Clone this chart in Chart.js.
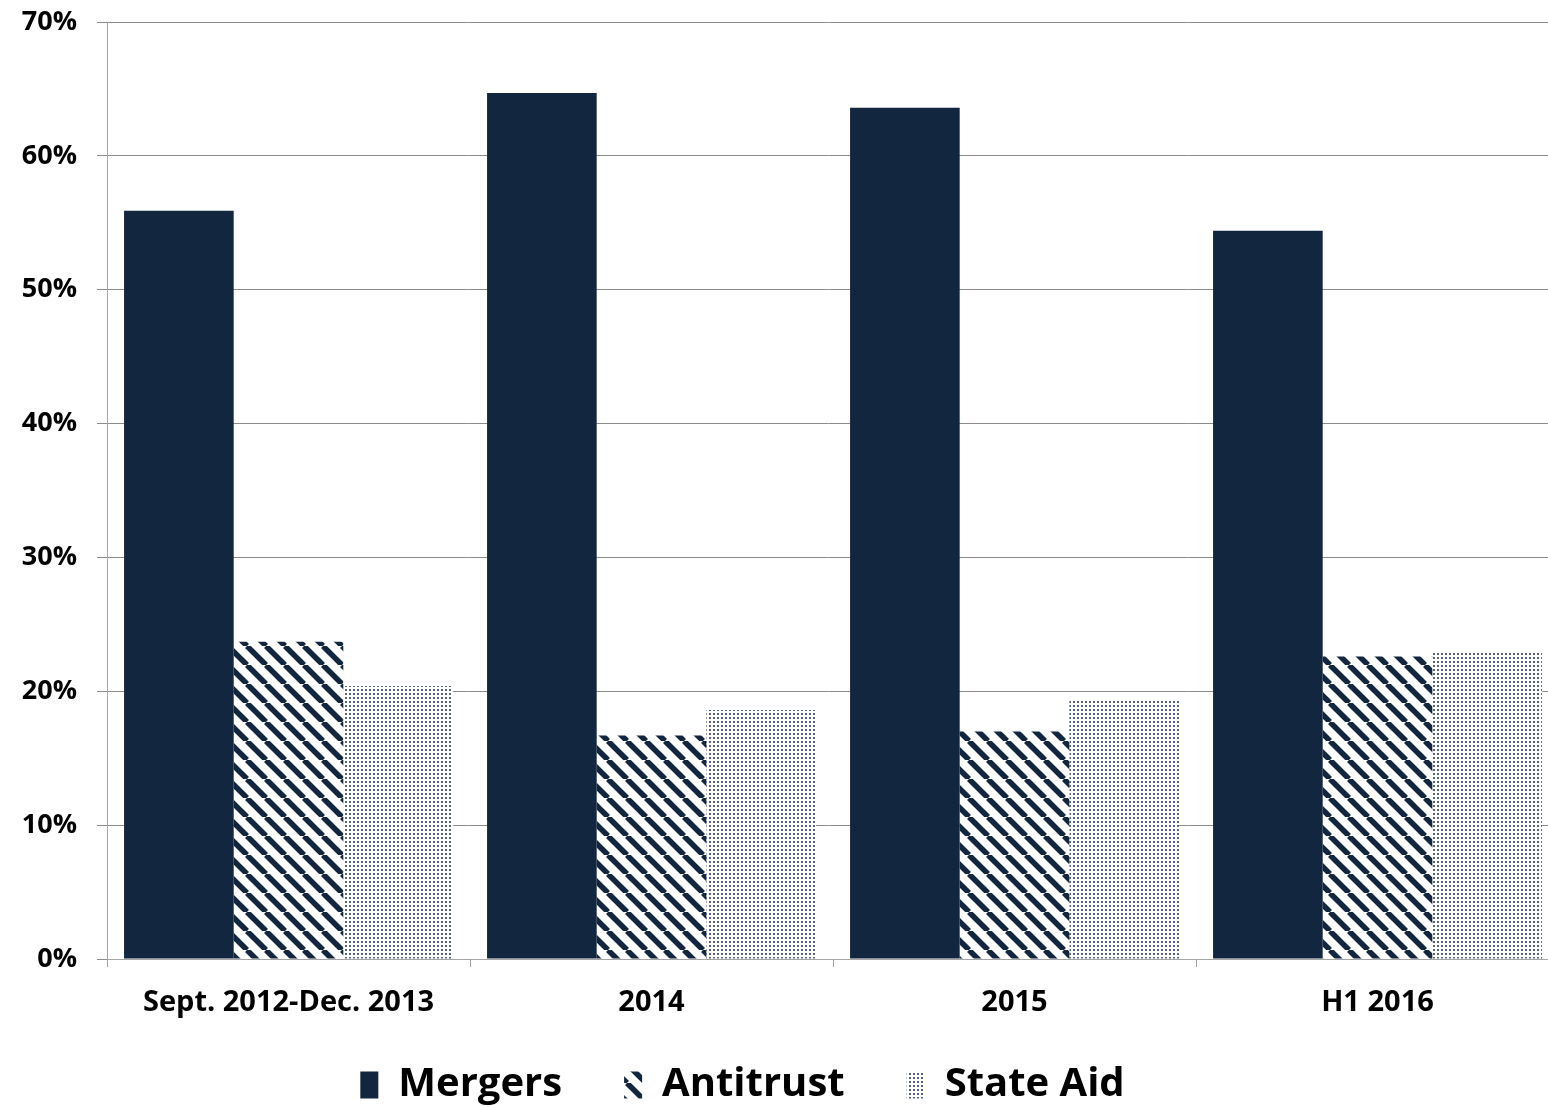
<!DOCTYPE html>
<html lang="en">
<head>
    <meta charset="UTF-8">
    <title>Mergers, Antitrust and State Aid</title>
    <script src="https://cdn.jsdelivr.net/npm/chart.js"></script>
    <style>
        html, body { margin: 0; padding: 0; background: #fff; }
        .chart-box { width: 1548px; height: 1107px; }
    </style>
</head>
<body>
    <div class="chart-box">
        <canvas id="shareChart"></canvas>
    </div>
    <script>
        const categories = ['Sept. 2012-Dec. 2013', '2014', '2015', 'H1 2016'];
        const mergers = [55.9, 64.7, 63.6, 54.4];
        const antitrust = [23.7, 16.7, 17.0, 22.6];
        const stateAid = [20.4, 18.6, 19.4, 23.0];

        const navy = '#12263f';
        const fontFamily = '"Open Sans", "DejaVu Sans", sans-serif';

        // diagonal stripes, top-left to bottom-right
        function stripePattern() {
            const s = 19;
            const c = document.createElement('canvas');
            c.width = s; c.height = s;
            const g = c.getContext('2d');
            g.fillStyle = '#fff';
            g.fillRect(0, 0, s, s);
            g.strokeStyle = navy;
            g.lineWidth = 5.5;
            [-s, 0, s].forEach(off => {
                g.beginPath();
                g.moveTo(off, 0);
                g.lineTo(off + s, s);
                g.stroke();
            });
            return g.createPattern(c, 'repeat');
        }

        // fine dots
        function dotPattern() {
            const c = document.createElement('canvas');
            c.width = 4; c.height = 4;
            const g = c.getContext('2d');
            g.fillStyle = '#fff';
            g.fillRect(0, 0, 4, 4);
            g.fillStyle = '#55647a';
            g.fillRect(1, 1, 2, 2);
            return g.createPattern(c, 'repeat');
        }

        // the original plot runs a little past the right edge; legend sits higher and left
        const adjustLayout = {
            id: 'adjustLayout',
            afterLayout(chart) {
                const x = chart.scales.x;
                x.right += 11;
                x.width += 11;
                x.configure();
                chart.chartArea.right += 11;
                chart.chartArea.width += 11;
                if (chart.legend) {
                    chart.legend.top -= 31;
                    chart.legend.left -= 63;
                }
            }
        };

        const ctx = document.getElementById('shareChart').getContext('2d');

        new Chart(ctx, {
            type: 'bar',
            data: {
                labels: categories,
                datasets: [
                    { label: 'Mergers', data: mergers, backgroundColor: navy },
                    { label: 'Antitrust', data: antitrust, backgroundColor: stripePattern() },
                    { label: 'State Aid', data: stateAid, backgroundColor: dotPattern() }
                ]
            },
            plugins: [adjustLayout],
            options: {
                responsive: true,
                maintainAspectRatio: false,
                animation: false,
                datasets: { bar: { categoryPercentage: 0.906, barPercentage: 1.0 } },
                layout: { padding: 0 },
                plugins: {
                    tooltip: { enabled: false },
                    legend: {
                        position: 'bottom',
                        maxHeight: 73,
                        labels: {
                            color: '#000',
                            boxWidth: 18,
                            boxHeight: 27,
                            padding: 62,
                            font: { family: fontFamily, size: 40, weight: 'bold' }
                        }
                    }
                },
                scales: {
                    x: {
                        grid: {
                            offset: true,
                            drawOnChartArea: false,
                            tickLength: 8,
                            color: '#a6a6a6'
                        },
                        border: { color: '#a6a6a6' },
                        ticks: {
                            color: '#000',
                            padding: 18,
                            maxRotation: 0,
                            font: { family: fontFamily, size: 29, weight: 'bold' }
                        },
                        afterFit: scale => { scale.height = 75; }
                    },
                    y: {
                        min: 0,
                        max: 70,
                        grid: { color: '#8c8c8c', tickLength: 10 },
                        border: { color: '#a6a6a6' },
                        ticks: {
                            stepSize: 10,
                            color: '#000',
                            padding: 20,
                            callback: v => v + '%',
                            font: { family: fontFamily, size: 27, weight: 'bold' }
                        },
                        afterFit: scale => {
                            scale.width = 107;
                            scale.paddingTop = 22;
                        }
                    }
                }
            }
        });
    </script>
</body>
</html>
